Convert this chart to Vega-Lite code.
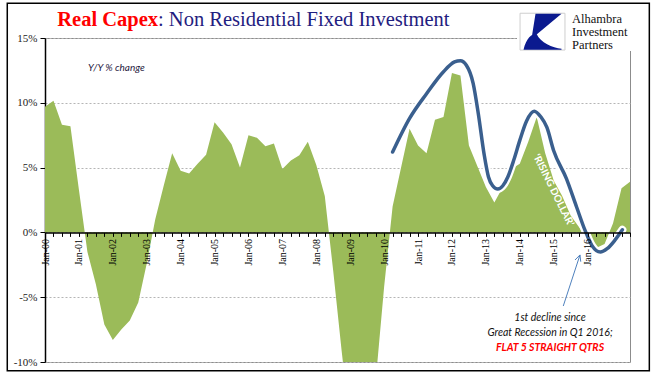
{
  "$schema": "https://vega.github.io/schema/vega-lite/v6.json",
  "width": 585,
  "height": 324,
  "autosize": {"type": "none"},
  "padding": {"left": 45, "top": 38, "right": 28, "bottom": 30},
  "background": "white",
  "config": {"view": {"stroke": "#8c8c8c", "strokeWidth": 1}},
  "datasets": {
    "area": [
      {"t": 0, "v": 9.7}, {"t": 1, "v": 10.15}, {"t": 2, "v": 8.3}, {"t": 3, "v": 8.2},
      {"t": 4, "v": 3.3}, {"t": 5, "v": -1.5}, {"t": 6, "v": -4.0}, {"t": 7, "v": -7.1},
      {"t": 8, "v": -8.3}, {"t": 9, "v": -7.5}, {"t": 10, "v": -6.8}, {"t": 11, "v": -5.4},
      {"t": 12, "v": -2.4}, {"t": 13, "v": 1.0}, {"t": 14, "v": 3.6}, {"t": 15, "v": 6.1},
      {"t": 16, "v": 4.75}, {"t": 17, "v": 4.55}, {"t": 18, "v": 5.3}, {"t": 19, "v": 6.0},
      {"t": 20, "v": 8.5}, {"t": 21, "v": 7.7}, {"t": 22, "v": 6.8}, {"t": 23, "v": 5.0},
      {"t": 24, "v": 7.5}, {"t": 25, "v": 7.3}, {"t": 26, "v": 6.65}, {"t": 27, "v": 6.85},
      {"t": 28, "v": 4.9}, {"t": 29, "v": 5.55}, {"t": 30, "v": 5.95}, {"t": 31, "v": 7.0},
      {"t": 32, "v": 5.2}, {"t": 33, "v": 2.8}, {"t": 34, "v": -3.0}, {"t": 35, "v": -9.2},
      {"t": 36, "v": -15.0}, {"t": 37, "v": -18.5}, {"t": 38, "v": -17.0}, {"t": 39, "v": -11.5},
      {"t": 40, "v": -4.2}, {"t": 41, "v": 2.0}, {"t": 42, "v": 5.0}, {"t": 43, "v": 8.0},
      {"t": 44, "v": 6.7}, {"t": 45, "v": 6.1}, {"t": 46, "v": 8.7}, {"t": 47, "v": 8.9},
      {"t": 48, "v": 12.3}, {"t": 49, "v": 12.1}, {"t": 50, "v": 6.7}, {"t": 51, "v": 5.1},
      {"t": 52, "v": 3.5}, {"t": 53, "v": 2.3}, {"t": 54, "v": 3.5}, {"t": 55, "v": 4.9},
      {"t": 56, "v": 5.3}, {"t": 57, "v": 7.0}, {"t": 58, "v": 8.9}, {"t": 59, "v": 6.1},
      {"t": 60, "v": 4.0}, {"t": 61, "v": 2.8}, {"t": 62, "v": 1.3}, {"t": 63, "v": 0.4},
      {"t": 64, "v": -0.6}, {"t": 65, "v": -1.2}, {"t": 66, "v": -0.9}, {"t": 67, "v": 0.7},
      {"t": 68, "v": 3.4}, {"t": 69, "v": 3.9}
    ],
    "curve": [
      {"t": 41.0, "v": 6.2}, {"t": 43.0, "v": 8.8}, {"t": 45.0, "v": 10.7}, {"t": 47.0, "v": 12.4},
      {"t": 48.3, "v": 13.15}, {"t": 49.0, "v": 13.25}, {"t": 49.7, "v": 12.9}, {"t": 50.5, "v": 11.5},
      {"t": 51.1, "v": 9.2}, {"t": 51.8, "v": 6.0}, {"t": 52.3, "v": 4.3}, {"t": 52.8, "v": 3.6},
      {"t": 53.4, "v": 3.35}, {"t": 54.0, "v": 3.6}, {"t": 54.6, "v": 4.3}, {"t": 55.3, "v": 5.6},
      {"t": 56.0, "v": 7.1}, {"t": 56.8, "v": 8.6}, {"t": 57.7, "v": 9.35}, {"t": 58.5, "v": 8.9},
      {"t": 59.2, "v": 8.1}, {"t": 60.0, "v": 6.3}, {"t": 61.5, "v": 4.15}, {"t": 62.7, "v": 1.96},
      {"t": 63.7, "v": 0.15}, {"t": 64.5, "v": -1.0}, {"t": 65.5, "v": -1.52}, {"t": 66.3, "v": -1.26},
      {"t": 67.2, "v": -0.62}, {"t": 68.1, "v": 0.2}
    ],
    "arrow": [
      {"t": 61.13, "v": -5.68, "t2": 63.1, "v2": -1.74},
      {"t": 62.51, "v": -2.13, "t2": 63.1, "v2": -1.74},
      {"t": 63.19, "v": -2.26, "t2": 63.1, "v2": -1.74}
    ],
    "frame": [{"t": -4.45, "v": 17.68, "t2": 71.28, "v2": -10.67}],
    "mask": [{"t": 55.67, "v": 15.5, "t2": 70.5, "v2": 14.0}],
    "logobox": [{"t": 56.03, "v": 16.91, "t2": 61.33, "v2": 14.07}],
    "logoicon": [{"t": 58.68, "v": 15.49}],
    "logotext": [
      {"t": 62.16, "v": 16.16, "label": "Alhambra"},
      {"t": 62.16, "v": 15.12, "label": "Investment"},
      {"t": 62.16, "v": 14.12, "label": "Partners"}
    ],
    "title1": [{"t": 13.33, "v": 15.93, "label": "Real Capex"}],
    "title2": [{"t": 13.33, "v": 15.93, "label": ": Non Residential Fixed Investment"}],
    "yy": [{"t": 5.07, "v": 12.69, "label": "Y/Y % change"}],
    "note": [
      {"t": 59.57, "v": -6.63, "label": "1st decline since"},
      {"t": 59.57, "v": -7.74, "label": "Great Recession in Q1 2016;"}
    ],
    "flat": [{"t": 59.57, "v": -8.9, "label": "FLAT 5 STRAIGHT QTRS"}],
    "dollar": [{"t": 59.96, "v": 3.25, "label": "‘RISING DOLLAR’"}]
  },
  "encoding": {
    "x": {
      "field": "t", "type": "quantitative",
      "scale": {"domain": [0, 69], "nice": false, "zero": false},
      "axis": {
        "title": null,
        "values": [0,1,2,3,4,5,6,7,8,9,10,11,12,13,14,15,16,17,18,19,20,21,22,23,24,25,26,27,28,29,30,31,32,33,34,35,36,37,38,39,40,41,42,43,44,45,46,47,48,49,50,51,52,53,54,55,56,57,58,59,60,61,62,63,64,65,66,67,68,69],
        "offset": -129.6,
        "zindex": 1,
        "grid": false,
        "domainColor": "#000000",
        "domainWidth": 1.5,
        "tickColor": "#000000",
        "tickSize": 4,
        "tickWidth": 1,
        "labelAngle": -90,
        "labelFont": "Liberation Serif",
        "labelFontSize": 10,
        "labelColor": "#000000",
        "labelPadding": 2,
        "labelOverlap": false,
        "labelFlush": false,
        "labelExpr": "(datum.value % 4 == 0 && datum.value < 68) ? 'Jan-' + (datum.value < 40 ? '0' : '') + floor(datum.value / 4) : ''"
      }
    },
    "y": {
      "field": "v", "type": "quantitative",
      "scale": {"domain": [-10, 15], "nice": false},
      "axis": {
        "title": null,
        "values": [-10, -5, 0, 5, 10, 15],
        "labelExpr": "datum.value + '%'",
        "labelFont": "Liberation Serif",
        "labelFontSize": 11,
        "labelColor": "#222222",
        "labelPadding": 3,
        "domainColor": "#000000",
        "domainWidth": 1.5,
        "tickColor": "#000000",
        "tickSize": 5,
        "gridColor": "#b5b5b5",
        "gridDash": [2, 2],
        "gridWidth": 1
      }
    }
  },
  "layer": [
    {
      "data": {"name": "area"},
      "mark": {"type": "area", "color": "#9bbb59", "clip": true, "interpolate": "linear"},
      "encoding": {"y": {"field": "v", "type": "quantitative", "stack": null}}
    },
    {
      "data": {"name": "curve"},
      "mark": {"type": "line", "color": "white", "strokeWidth": 8, "interpolate": "monotone", "strokeCap": "round"}
    },
    {
      "data": {"name": "curve"},
      "mark": {"type": "line", "color": "#3a5f8e", "strokeWidth": 3.5, "interpolate": "monotone", "strokeCap": "round"}
    },
    {
      "data": {"name": "dollar"},
      "mark": {"type": "text", "color": "white", "font": "Lato", "fontWeight": "bold", "fontSize": 10, "angle": 63.6, "align": "center", "baseline": "middle"},
      "encoding": {"text": {"field": "label"}}
    },
    {
      "data": {"name": "arrow"},
      "mark": {"type": "rule", "color": "#4f81bd", "strokeWidth": 1},
      "encoding": {"x2": {"field": "t2"}, "y2": {"field": "v2"}}
    },
    {
      "data": {"name": "note"},
      "mark": {"type": "text", "color": "#111111", "font": "Lato", "fontStyle": "italic", "fontSize": 10.5, "align": "center", "baseline": "middle"},
      "encoding": {"text": {"field": "label"}}
    },
    {
      "data": {"name": "flat"},
      "mark": {"type": "text", "color": "#ff0000", "font": "Lato", "fontStyle": "italic", "fontWeight": "bold", "fontSize": 10.5, "align": "center", "baseline": "middle"},
      "encoding": {"text": {"field": "label"}}
    },
    {
      "data": {"name": "yy"},
      "mark": {"type": "text", "color": "#1f2040", "font": "Lato", "fontStyle": "italic", "fontSize": 10, "align": "left", "baseline": "middle"},
      "encoding": {"text": {"field": "label"}}
    },
    {
      "data": {"name": "mask"},
      "mark": {"type": "rect", "fill": "white", "stroke": null},
      "encoding": {"x2": {"field": "t2"}, "y2": {"field": "v2"}}
    },
    {
      "data": {"name": "logobox"},
      "mark": {"type": "rect", "fill": "white", "stroke": "#cfcfcf", "strokeWidth": 1},
      "encoding": {"x2": {"field": "t2"}, "y2": {"field": "v2"}}
    },
    {
      "data": {"name": "logoicon"},
      "mark": {"type": "point", "filled": true, "color": "#0b1a8f", "opacity": 1, "size": 1600,
               "shape": "M -0.35 -0.9 L 0.95 -0.9 L -0.55 0.35 Z M -0.95 0.9 C -0.8 0.3 -0.55 0.1 -0.3 0.1 C -0.1 0.55 0.5 0.8 0.95 0.85 L 0.95 0.9 Z"}
    },
    {
      "data": {"name": "logotext"},
      "mark": {"type": "text", "color": "#111111", "font": "Liberation Serif", "fontSize": 12.5, "align": "left", "baseline": "alphabetic"},
      "encoding": {"text": {"field": "label"}}
    },
    {
      "data": {"name": "title1"},
      "mark": {"type": "text", "color": "#ff0000", "font": "Liberation Serif", "fontWeight": "bold", "fontSize": 20.5, "align": "right", "baseline": "alphabetic"},
      "encoding": {"text": {"field": "label"}}
    },
    {
      "data": {"name": "title2"},
      "mark": {"type": "text", "color": "#1f2080", "font": "Liberation Serif", "fontSize": 20.5, "align": "left", "baseline": "alphabetic"},
      "encoding": {"text": {"field": "label"}}
    },
    {
      "data": {"name": "frame"},
      "mark": {"type": "rect", "fill": null, "stroke": "#000000", "strokeWidth": 1.5},
      "encoding": {"x2": {"field": "t2"}, "y2": {"field": "v2"}}
    }
  ]
}
